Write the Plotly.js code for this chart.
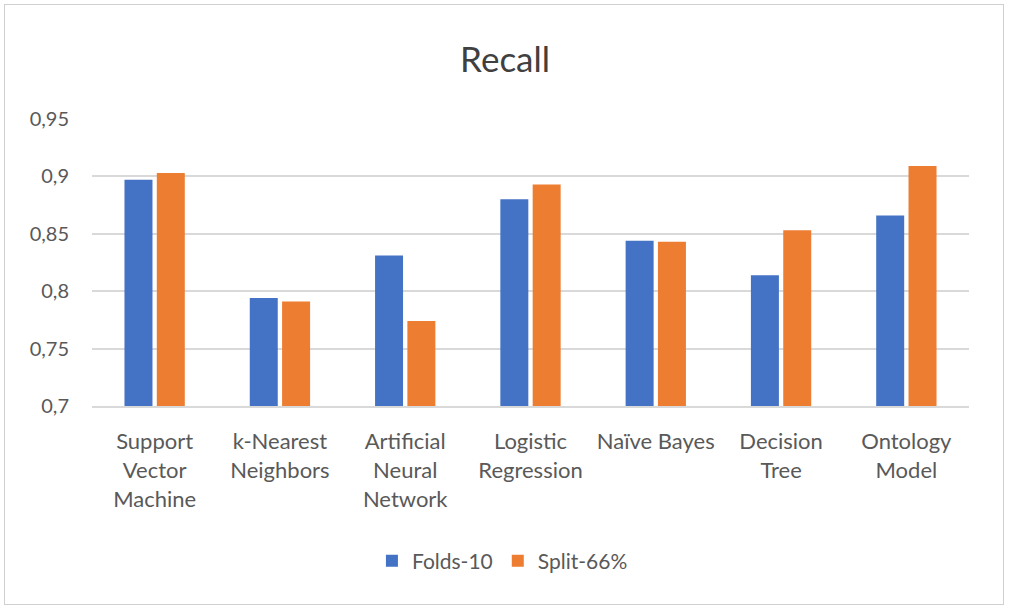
<!DOCTYPE html>
<html>
<head>
<meta charset="utf-8">
<script src="https://cdn.plot.ly/plotly-3.0.1.min.js"></script>
<style>
  html, body { margin: 0; padding: 0; background: #fff; }
  #frame { position: absolute; left: 4px; top: 4px; width: 1000px; height: 601px; border: 1px solid #d0d0d0; box-sizing: border-box; pointer-events: none; z-index: 5; }
  #chart { width: 1010px; height: 611px; }
</style>
</head>
<body>
<div id="frame"></div>
<div id="chart"></div>
<script>
const categories = [
  "Support<br>Vector<br>Machine",
  "k-Nearest<br>Neighbors",
  "Artificial<br>Neural<br>Network",
  "Logistic<br>Regression",
  "Naïve Bayes",
  "Decision<br>Tree",
  "Ontology<br>Model"
];
const folds10 = [0.897, 0.794, 0.831, 0.880, 0.844, 0.814, 0.866];
const split66 = [0.903, 0.791, 0.774, 0.893, 0.843, 0.853, 0.909];
const yTicks = [0.7, 0.75, 0.8, 0.85, 0.9, 0.95];

const font = "Lato, 'Open Sans', sans-serif";

const traces = [
  { type: "bar", name: "Folds-10", x: categories, y: folds10, marker: { color: "#4472C4" }, hoverinfo: "y" },
  { type: "bar", name: "Split-66%", x: categories, y: split66, marker: { color: "#ED7D31" }, hoverinfo: "y" }
];

const layout = {
  width: 1010, height: 611,
  paper_bgcolor: "#ffffff", plot_bgcolor: "#ffffff",
  separators: ", ",
  font: { family: font, color: "#595959", size: 20 },
  title: { text: "Recall", font: { family: font, size: 35, color: "#404040" }, x: 0.471, xanchor: "center", y: 0.903, yanchor: "middle", xref: "paper" },
  margin: { l: 92, r: 41, t: 119, b: 205 },
  barmode: "group",
  bargap: 0.484,
  bargroupgap: 0.134,
  showlegend: true,
  legend: { orientation: "h", x: 0.468, xanchor: "center", y: -0.54, yanchor: "middle", font: { family: font, size: 21, color: "#595959" }, itemwidth: 30, traceorder: "normal" },
  xaxis: { type: "category", showgrid: false, zeroline: false, showline: true, linecolor: "#d9d9d9", linewidth: 2, ticks: "", ticklabelstandoff: 15, tickfont: { family: font, size: 22, color: "#595959" }, fixedrange: true },
  yaxis: { range: [0.7, 0.95], tickvals: yTicks, showgrid: true, gridcolor: "#d9d9d9", gridwidth: 2, zeroline: false, showline: false, ticks: "", ticklabelstandoff: 22, tickfont: { family: font, size: 20, color: "#595959" }, fixedrange: true }
};

Plotly.newPlot("chart", traces, layout, { displayModeBar: false, staticPlot: true });
</script>
</body>
</html>
